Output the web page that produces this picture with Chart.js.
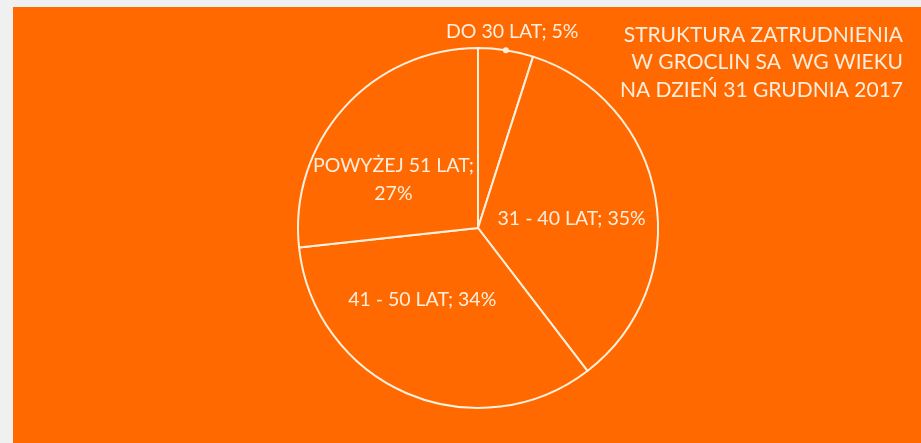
<!DOCTYPE html>
<html>
<head>
<meta charset="utf-8">
<script src="https://cdn.jsdelivr.net/npm/chart.js@4.4.1/dist/chart.umd.min.js"></script>
<style>
    html, body { margin: 0; padding: 0; background: #f0f0f0; width: 921px; height: 443px; overflow: hidden; }
    .panel { position: absolute; left: 13px; top: 7px; width: 908px; height: 436px; background: #ff6900; }
</style>
</head>
<body>
<div class="panel"><canvas id="pieChart" width="908" height="436"></canvas></div>
<script>
const categories = ['DO 30 LAT', '31 - 40 LAT', '41 - 50 LAT', 'POWYŻEJ 51 LAT'];
const shares = [5, 35, 34, 27];
const titleLines = ['STRUKTURA ZATRUDNIENIA', 'W GROCLIN SA  WG WIEKU', 'NA DZIEŃ 31 GRUDNIA 2017'];

const ink = '#fdeede';
const fontFamily = 'Lato, "Open Sans", sans-serif';

// where each label sits, relative to the pie centre, in units of radius
const labelSpots = [
    { fx: 0.19, fy: -1.09, lines: (c, v) => [c + '; ' + v + '%'] },
    { fx: 0.52, fy: -0.05, lines: (c, v) => [c + '; ' + v + '%'] },
    { fx: -0.31, fy: 0.40, lines: (c, v) => [c + '; ' + v + '%'] },
    { fx: -0.47, fy: -0.27, lines: (c, v) => [c + ';', v + '%'] }
];

const textPlugin = {
    id: 'pieText',
    afterDraw(chart) {
        const ctx = chart.ctx;
        const arcs = chart.getDatasetMeta(0).data;
        ctx.save();
        ctx.fillStyle = ink;
        ctx.textBaseline = 'middle';

        // slice labels
        ctx.font = '19.5px ' + fontFamily;
        ctx.textAlign = 'center';
        arcs.forEach((arc, i) => {
            const spot = labelSpots[i];
            const r = arc.outerRadius;
            const lines = spot.lines(categories[i], shares[i]);
            const lh = 28;
            const y0 = arc.y + spot.fy * r - (lines.length - 1) * lh / 2;
            lines.forEach((t, k) => ctx.fillText(t, arc.x + spot.fx * r, y0 + k * lh));
        });

        // leader dot for the small slice
        const a0 = arcs[0];
        const mid = (a0.startAngle + a0.endAngle) / 2;
        ctx.beginPath();
        ctx.arc(a0.x + Math.cos(mid) * a0.outerRadius, a0.y + Math.sin(mid) * a0.outerRadius, 3, 0, Math.PI * 2);
        ctx.fill();

        // title, right aligned in the corner
        ctx.font = '21px ' + fontFamily;
        ctx.textAlign = 'right';
        titleLines.forEach((t, k) => ctx.fillText(t, chart.width - 18, 28 + k * 27.5));
        ctx.restore();
    }
};

const ctx = document.getElementById('pieChart').getContext('2d');
new Chart(ctx, {
    type: 'pie',
    data: {
        labels: categories,
        datasets: [{
            data: shares,
            backgroundColor: '#ff6900',
            borderColor: '#fff1de',
            borderWidth: 2
        }]
    },
    options: {
        responsive: false,
        animation: false,
        layout: { padding: { left: 22, right: 0, top: 40, bottom: 34 } },
        plugins: {
            legend: { display: false },
            tooltip: { enabled: false }
        }
    },
    plugins: [textPlugin]
});
</script>
</body>
</html>
